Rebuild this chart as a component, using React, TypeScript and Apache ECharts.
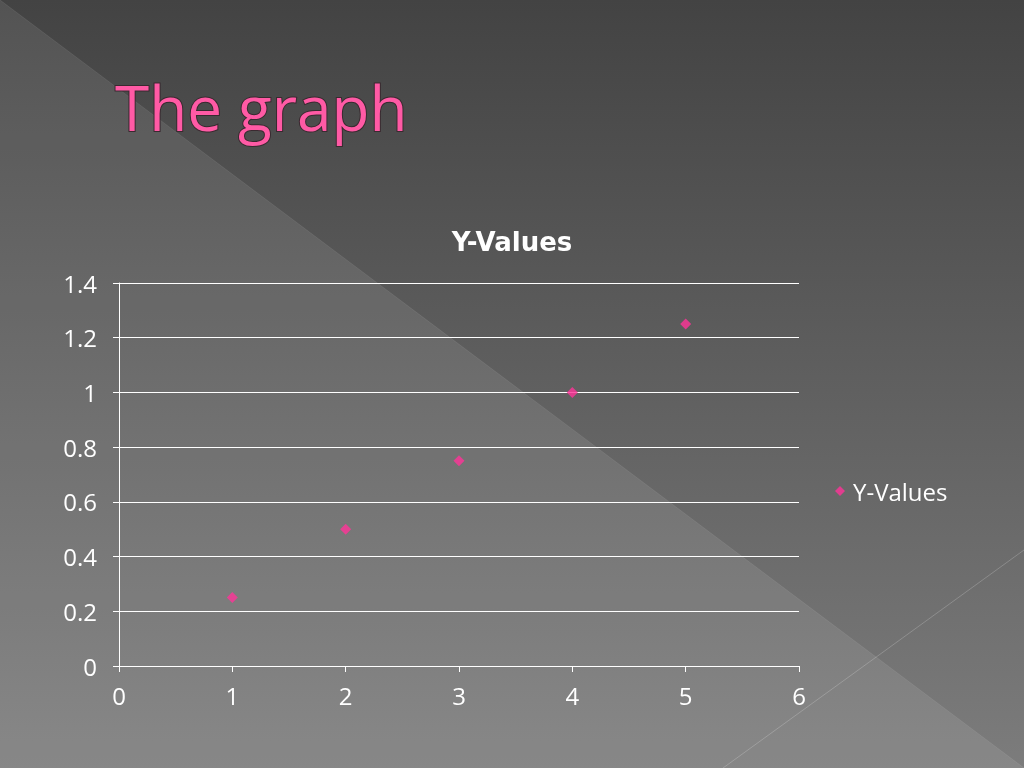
import React, { useEffect, useRef } from "react";
import * as echarts from "echarts";

const xValues = [1, 2, 3, 4, 5];
const yValues = [0.25, 0.5, 0.75, 1, 1.25];
const seriesName = "Y-Values";
const slideTitle = "The graph";

export default function App() {
  const ref = useRef<HTMLDivElement>(null);
  useEffect(() => {
    if (!ref.current) return;
    const chart = echarts.init(ref.current, null, { renderer: "svg" });
    const font = "'Open Sans', Lato, sans-serif";
    chart.setOption({
      animation: false,
      graphic: [
        {
          type: "rect",
          z: -10,
          shape: { x: 0, y: 0, width: 1024, height: 768 },
          style: {
            fill: new echarts.graphic.LinearGradient(0, 0, 0, 1, [
              { offset: 0, color: "#434343" },
              { offset: 1, color: "#7c7c7c" },
            ]),
          },
        },
        {
          type: "polygon",
          z: -9,
          shape: { points: [[0, 0], [0, 768], [1024, 768]] },
          style: { fill: "rgba(255,255,255,0.09)" },
        },
        {
          type: "line",
          z: -8,
          shape: { x1: 0, y1: 0, x2: 1024, y2: 768 },
          style: { stroke: "rgba(255,255,255,0.08)", lineWidth: 1 },
        },
        {
          type: "line",
          z: -8,
          shape: { x1: 723, y1: 768, x2: 1024, y2: 550 },
          style: { stroke: "rgba(255,255,255,0.2)", lineWidth: 1 },
        },
        {
          type: "text",
          z: 10,
          left: 114,
          top: 75,
          style: {
            text: slideTitle,
            fontFamily: font,
            fontSize: 62,
            fill: "#ff5aa5",
            stroke: "#3a2a30",
            lineWidth: 2,
            shadowColor: "rgba(0,0,0,0.5)",
            shadowBlur: 3,
            shadowOffsetX: 1,
            shadowOffsetY: 1,
          },
        },
      ],
      title: {
        text: seriesName,
        left: "center",
        top: 224,
        textStyle: {
          color: "#ffffff",
          fontSize: 26,
          fontWeight: "bold",
          fontFamily: "'DejaVu Sans', sans-serif",
        },
      },
      legend: {
        orient: "vertical",
        left: 830,
        top: 474,
        itemWidth: 10,
        itemHeight: 10,
        icon: "diamond",
        textStyle: { color: "#ffffff", fontSize: 24, fontFamily: font, padding: [0, 0, 0, 3] },
        data: [seriesName],
      },
      grid: { left: 119, right: 225, top: 283, bottom: 102 },
      xAxis: {
        type: "value",
        min: 0,
        max: 6,
        interval: 1,
        axisLine: { show: true, onZero: false, lineStyle: { color: "#ffffff", width: 1 } },
        axisTick: { show: true, length: 6, lineStyle: { color: "#ffffff" } },
        axisLabel: { color: "#ffffff", fontSize: 24, fontFamily: font, margin: 17 },
        splitLine: { show: false },
      },
      yAxis: {
        type: "value",
        min: 0,
        max: 1.4,
        interval: 0.2,
        axisLine: { show: true, onZero: false, lineStyle: { color: "#ffffff", width: 1 } },
        axisTick: { show: true, length: 6, lineStyle: { color: "#ffffff" } },
        axisLabel: {
          color: "#ffffff",
          fontSize: 24,
          fontFamily: font,
          margin: 22,
          formatter: (v: number) => String(Math.round(v * 10) / 10),
        },
        splitLine: { show: true, lineStyle: { color: "#ffffff", width: 1 } },
      },
      series: [
        {
          name: seriesName,
          type: "scatter",
          symbol: "diamond",
          symbolSize: 11,
          itemStyle: { color: "#ff3399" },
          data: xValues.map((x, i) => [x, yValues[i]]),
        },
      ],
    });
    return () => chart.dispose();
  }, []);
  return (
    <div
      ref={ref}
      style={{ position: "fixed", left: 0, top: 0, width: 1024, height: 768 }}
    />
  );
}
